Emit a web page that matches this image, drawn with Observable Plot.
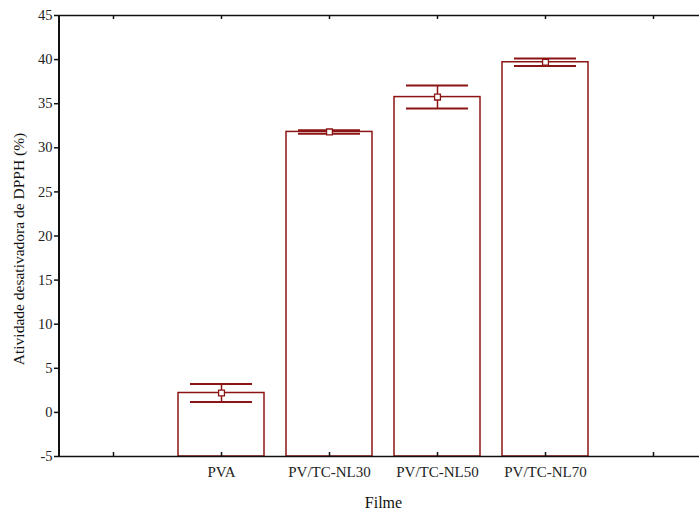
<!DOCTYPE html>
<html>
<head>
<meta charset="utf-8">
<script src="https://cdn.jsdelivr.net/npm/d3@7"></script>
<script src="https://cdn.jsdelivr.net/npm/@observablehq/plot@0.6"></script>
<style>
  html, body { margin: 0; padding: 0; background: #fff; }
  #chart { width: 699px; height: 510px; overflow: hidden; }
  #chart svg, #chart svg text { font-family: "Liberation Serif", "Times New Roman", Times, serif !important; }
</style>
</head>
<body>
<div id="chart"></div>
<script>
// ---- data ----
const categories = ["PVA", "PV/TC-NL30", "PV/TC-NL50", "PV/TC-NL70"];
const means = [2.2, 31.8, 35.75, 39.7];
const errors = [1.02, 0.2, 1.3, 0.43];
const slotsLeft = ["_L"];
const slotsRight = ["_R"];
const yTicks = [-5, 0, 5, 10, 15, 20, 25, 30, 35, 40, 45];
const yDomain = [-5, 45];
const xLabel = "Filme";
const yLabel = "Atividade desativadora de DPPH (%)";

const xDomain = [...slotsLeft, ...categories, ...slotsRight];
const rows = categories.map((c, i) => ({cat: c, mean: means[i], lo: means[i] - errors[i], hi: means[i] + errors[i]}));
const red = "#8b1414";
const serif = "Liberation Serif, Times New Roman, serif";
const fmtX = d => d.startsWith("_") ? "" : d;

const chart = Plot.plot({
  width: 699,
  height: 510,
  marginLeft: 59,
  marginRight: 0,
  marginTop: 15,
  marginBottom: 54,
  style: {fontFamily: serif, fontSize: "14px", color: "#222", background: "#fff"},
  x: {type: "band", domain: xDomain, range: [59, 707], paddingInner: 0.2, paddingOuter: 0.1, axis: null},
  y: {domain: yDomain, axis: null},
  marks: [
    Plot.barY(rows, {x: "cat", y1: yDomain[0], y2: "mean", fill: "#fff", stroke: red, strokeWidth: 1.5}),
    Plot.ruleX(rows, {x: "cat", y1: "lo", y2: "hi", stroke: red, strokeWidth: 1.5}),
    Plot.tickY(rows, {x: "cat", y: "hi", stroke: red, strokeWidth: 2, insetLeft: 12, insetRight: 12}),
    Plot.tickY(rows, {x: "cat", y: "lo", stroke: red, strokeWidth: 2, insetLeft: 12, insetRight: 12}),
    Plot.dot(rows, {x: "cat", y: "mean", symbol: "square", r: 3.3, fill: "#fff", stroke: red, strokeWidth: 1.3}),
    // frame lines
    Plot.ruleY([yDomain[0], yDomain[1]], {stroke: "#111", strokeWidth: 1.6}),
    (index, scales, values, dims) => {
      const line = d3.create("svg:line")
        .attr("x1", dims.marginLeft).attr("x2", dims.marginLeft)
        .attr("y1", scales.y(yDomain[0])).attr("y2", scales.y(yDomain[1]))
        .attr("stroke", "#111").attr("stroke-width", 2);
      return line.node();
    },
    // inward x ticks, bottom and top
    Plot.ruleX(xDomain, {x: d => d, y1: yDomain[0], y2: yDomain[0], insetBottom: 4, stroke: "#111", strokeWidth: 1.5}),
    Plot.ruleX(xDomain, {x: d => d, y1: yDomain[1], y2: yDomain[1], insetTop: 4, stroke: "#111", strokeWidth: 1.5}),
    Plot.axisX({anchor: "bottom", tickSize: 0, tickPadding: 10, tickFormat: fmtX, fontSize: 15, fontFamily: serif, label: null}),
    Plot.axisY({anchor: "left", ticks: yTicks, tickSize: 5, tickPadding: 2, tickFormat: d => String(d), fontSize: 14.5, fontFamily: serif, label: null, stroke: "#111", strokeWidth: 1.5}),
    Plot.text([xLabel], {frameAnchor: "bottom", textAnchor: "middle", lineAnchor: "middle", dx: 4, dy: 46, fontSize: 16, fontFamily: serif, fill: "#111"}),
    Plot.text([yLabel], {frameAnchor: "left", textAnchor: "middle", lineAnchor: "middle", rotate: -90, dx: -40, dy: 13, fontSize: 15.5, fontFamily: serif, fill: "#111"})
  ]
});
document.getElementById("chart").appendChild(chart);
</script>
</body>
</html>
